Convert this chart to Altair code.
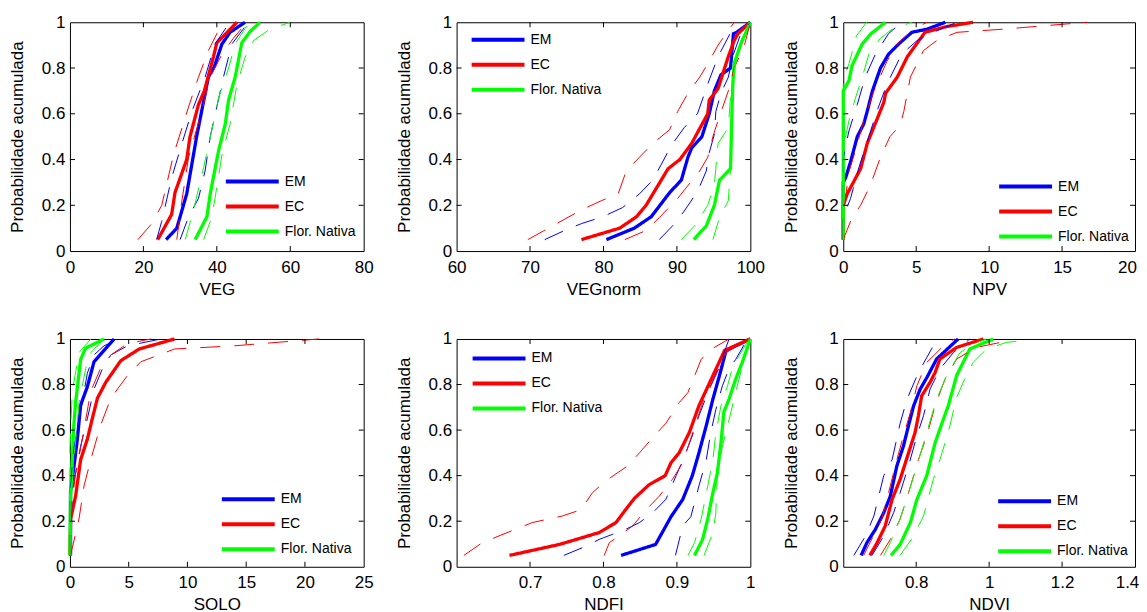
import altair as alt
import pandas as pd

FONT = "Liberation Sans"
GROUPS = ["EM", "EC", "Flor. Nativa"]
COLORS = ["#0000FF", "#FF0000", "#00FF00"]
Y_TICKS = [0, 0.2, 0.4, 0.6, 0.8, 1]
Y_TITLE = "Probabilidade acumulada"

# ---------------- VEG ----------------
VEG_TICKS = [0, 20, 40, 60, 80]
VEG_EM = [(26.2, 0.05), (29.1, 0.1), (31.8, 0.25), (34.5, 0.5), (37.7, 0.76), (39.4, 0.81), (41.4, 0.905), (43.6, 0.956), (47.7, 1.0)]
VEG_EC = [(23.9, 0.05), (27.7, 0.16), (28.6, 0.255), (31.8, 0.4), (32.7, 0.5), (35, 0.64), (36.6, 0.7), (39.1, 0.85), (40, 0.91), (45.5, 1.0)]
VEG_FN = [(34.1, 0.05), (37.3, 0.15), (38.2, 0.25), (40.5, 0.44), (42.3, 0.555), (43.2, 0.66), (45, 0.76), (46.8, 0.91), (49.1, 0.96), (51.8, 1.0)]
VEG_EM_LO = [(23.6, 0.05), (25, 0.13), (27.7, 0.32), (30.5, 0.47), (33.2, 0.61), (36.8, 0.76), (39.5, 0.905), (42.7, 0.98), (43.6, 1.0)]
VEG_EM_HI = [(30, 0.05), (32.3, 0.15), (35, 0.23), (36.8, 0.35), (38.2, 0.5), (40, 0.63), (41.8, 0.76), (44.1, 0.905), (48.6, 1.0)]
VEG_EC_LO = [(18.5, 0.05), (22.3, 0.12), (25, 0.2), (28.2, 0.42), (32.3, 0.63), (35, 0.76), (37.7, 0.876), (40, 0.95), (42.3, 1.0)]
VEG_EC_HI = [(29.1, 0.05), (30.5, 0.22), (32.3, 0.41), (35.9, 0.61), (38.2, 0.76), (41.4, 0.86), (44.5, 0.93), (48.2, 1.0)]
VEG_FN_LO = [(31.4, 0.05), (33.6, 0.175), (36.4, 0.365), (38.6, 0.525), (40.5, 0.67), (43.2, 0.8), (45, 0.905), (48.2, 0.985), (49, 1.0)]
VEG_FN_HI = [(36.4, 0.05), (38.6, 0.146), (39.5, 0.23), (41.4, 0.42), (43.6, 0.555), (45.5, 0.73), (47.7, 0.847), (50, 0.92), (54.5, 0.97), (60, 1.0)]

# ---------------- VEGnorm ----------------
VEGN_TICKS = [60, 70, 80, 90, 100]
VEGN_EM = [(80.4, 0.05), (84.2, 0.1), (86.5, 0.15), (89, 0.255), (90.6, 0.31), (91.5, 0.41), (92, 0.45), (93.4, 0.5), (94.4, 0.6), (95.1, 0.7), (96, 0.77), (97.3, 0.8), (97.7, 0.95), (98.1, 0.955), (100, 1.0)]
VEGN_EC = [(77, 0.05), (82.2, 0.1), (84.5, 0.15), (85.8, 0.2), (88.8, 0.36), (90.4, 0.4), (92, 0.47), (94.2, 0.6), (94.4, 0.66), (95.6, 0.71), (96.5, 0.8), (97, 0.85), (97.8, 0.92), (98.3, 0.95), (100, 1.0)]
VEGN_FN = [(92.3, 0.05), (94, 0.11), (95.1, 0.2), (95.8, 0.31), (97.3, 0.36), (97.5, 0.61), (97.6, 0.72), (97.8, 0.82), (98.7, 0.905), (100, 1.0)]
VEGN_EM_LO = [(72, 0.05), (74.7, 0.09), (77, 0.12), (79.9, 0.15), (82.6, 0.19), (84.9, 0.25), (86.7, 0.31), (87.9, 0.38), (89.2, 0.46), (91, 0.54), (92.8, 0.6), (94.2, 0.73), (95.6, 0.85), (97.4, 0.96), (98.3, 1.0)]
VEGN_EM_HI = [(87.6, 0.05), (89.7, 0.12), (91, 0.175), (92.8, 0.26), (94, 0.35), (94.4, 0.43), (95.1, 0.51), (95.3, 0.61), (96, 0.69), (97, 0.76), (97.7, 0.86), (98.7, 0.95), (100, 1.0)]
VEGN_EC_LO = [(69.7, 0.05), (72.5, 0.1), (77, 0.18), (79.7, 0.22), (82, 0.25), (83.1, 0.35), (84.9, 0.41), (86.7, 0.47), (89, 0.53), (90.1, 0.61), (91.5, 0.69), (93.1, 0.76), (94.4, 0.83), (95.6, 0.9), (97.8, 1.0)]
VEGN_EC_HI = [(82.9, 0.05), (85.8, 0.09), (87.6, 0.146), (90.1, 0.23), (93.1, 0.35), (94.2, 0.41), (94.9, 0.5), (95.6, 0.57), (97, 0.7), (97.8, 0.8), (99.2, 0.9), (100, 1.0)]
VEGN_FN_LO = [(90.6, 0.05), (92.4, 0.11), (94.2, 0.2), (95.1, 0.29), (95.6, 0.47), (97, 0.54), (97.4, 0.72), (98.1, 0.83), (98.7, 0.92), (100, 1.0)]
VEGN_FN_HI = [(94.9, 0.05), (95.8, 0.146), (97, 0.22), (97.4, 0.41), (97.5, 0.61), (97.6, 0.76), (98.3, 0.86), (99, 0.93), (100, 1.0)]

# ---------------- NPV ----------------
NPV_TICKS = [0, 5, 10, 15, 20]
NPV_EM = [(0, 0.05), (0, 0.3), (0.16, 0.32), (0.5, 0.39), (0.96, 0.5), (1.4, 0.555), (1.64, 0.61), (2, 0.7), (2.55, 0.8), (3.1, 0.86), (3.8, 0.905), (4.7, 0.956), (5.75, 0.97), (7, 1.0)]
NPV_EC = [(0, 0.05), (0, 0.2), (0.27, 0.25), (1.19, 0.36), (1.64, 0.47), (2.78, 0.65), (2.9, 0.69), (3.7, 0.76), (4.4, 0.85), (5.6, 0.956), (7, 0.98), (8.9, 1.0)]
NPV_FN = [(0, 0.05), (0, 0.7), (0.39, 0.745), (0.6, 0.81), (1.3, 0.905), (1.9, 0.95), (2.9, 1.0)]
NPV_EM_LO = [(0, 0.05), (0, 0.41), (0.39, 0.525), (0.96, 0.64), (1.5, 0.76), (2.2, 0.86), (3.1, 0.95), (4, 1.0)]
NPV_EM_HI = [(0, 0.05), (0, 0.15), (0.5, 0.23), (1.07, 0.365), (1.75, 0.5), (2.3, 0.61), (3, 0.73), (4, 0.86), (5.06, 0.92), (6.66, 0.97), (7.8, 1.0)]
NPV_EC_LO = [(0, 0.05), (0, 0.16), (0.4, 0.35), (0.84, 0.44), (1.4, 0.57), (2.1, 0.7), (3, 0.83), (3.7, 0.905), (4.8, 0.97), (5.75, 1.0)]
NPV_EC_HI = [(0, 0.05), (0.6, 0.146), (1.19, 0.2), (1.87, 0.29), (2.55, 0.41), (3.2, 0.5), (3.9, 0.55), (4.15, 0.61), (4.6, 0.76), (5.5, 0.876), (6.4, 0.92), (7.8, 0.956), (11, 0.97), (16.7, 1.0)]
NPV_FN_LO = [(0, 0.05), (0, 0.75), (0.4, 0.82), (0.9, 0.94), (1.6, 1.0)]
NPV_FN_HI = [(0, 0.05), (0, 0.45), (0.39, 0.57), (0.84, 0.67), (1.3, 0.76), (1.75, 0.86), (2.55, 0.93), (3.35, 0.97), (4.7, 1.0)]

# ---------------- SOLO ----------------
SOLO_TICKS = [0, 5, 10, 15, 20, 25]
SOLO_EM = [(0.05, 0.05), (0.05, 0.33), (0.34, 0.44), (0.63, 0.56), (0.91, 0.71), (1.48, 0.79), (2.05, 0.9), (2.9, 0.95), (3.76, 1.0)]
SOLO_EC = [(0, 0.05), (0.06, 0.21), (0.48, 0.31), (0.91, 0.47), (1.48, 0.56), (1.9, 0.65), (2.34, 0.74), (3.05, 0.81), (4.33, 0.905), (5.9, 0.956), (8.9, 1.0)]
SOLO_FN = [(0, 0.05), (0.05, 0.3), (0.2, 0.47), (0.3, 0.6), (0.48, 0.72), (0.91, 0.91), (1.34, 0.96), (2.9, 1.0)]
SOLO_EM_LO = [(0, 0.05), (0, 0.33), (0.34, 0.52), (0.91, 0.68), (1.48, 0.85), (2.05, 0.93), (2.9, 0.97), (4.2, 1.0)]
SOLO_EM_HI = [(0, 0.05), (0.2, 0.33), (0.91, 0.53), (1.48, 0.65), (2.05, 0.78), (2.77, 0.87), (3.48, 0.93), (4.9, 0.97), (7.75, 1.0)]
SOLO_EC_LO = [(0, 0.05), (0, 0.21), (0.48, 0.41), (0.91, 0.52), (1.77, 0.77), (2.6, 0.87), (3.48, 0.93), (4.9, 0.98), (6.9, 1.0)]
SOLO_EC_HI = [(0.05, 0.05), (0.77, 0.21), (1.2, 0.355), (1.77, 0.47), (2.6, 0.62), (3.48, 0.74), (4.9, 0.84), (6.04, 0.9), (8.9, 0.956), (14, 0.97), (21.2, 1.0)]
SOLO_FN_LO = [(0, 0.05), (0, 0.52), (0.2, 0.77), (0.77, 0.94), (1.77, 1.0)]
SOLO_FN_HI = [(0, 0.05), (0.1, 0.3), (0.34, 0.47), (0.77, 0.72), (1.34, 0.87), (1.77, 0.94), (2.9, 1.0)]

# ---------------- NDFI ----------------
NDFI_TICKS = [0.7, 0.8, 0.9, 1]
NDFI_EM = [(0.824, 0.05), (0.871, 0.098), (0.892, 0.22), (0.908, 0.296), (0.921, 0.4), (0.93, 0.5), (0.94, 0.62), (0.949, 0.736), (0.958, 0.84), (0.967, 0.95), (1.0, 1.0)]
NDFI_EC = [(0.672, 0.05), (0.74, 0.098), (0.794, 0.15), (0.817, 0.194), (0.83, 0.25), (0.842, 0.3), (0.862, 0.36), (0.884, 0.4), (0.892, 0.457), (0.903, 0.5), (0.917, 0.59), (0.93, 0.707), (0.951, 0.853), (0.965, 0.95), (1.0, 1.0)]
NDFI_FN = [(0.924, 0.05), (0.935, 0.12), (0.942, 0.21), (0.949, 0.325), (0.955, 0.41), (0.96, 0.545), (0.964, 0.68), (0.971, 0.736), (0.98, 0.824), (0.989, 0.897), (1.0, 1.0)]
NDFI_EM_LO = [(0.746, 0.05), (0.776, 0.09), (0.794, 0.12), (0.812, 0.142), (0.83, 0.164), (0.849, 0.194), (0.867, 0.237), (0.885, 0.296), (0.899, 0.4), (0.912, 0.5), (0.921, 0.575), (0.93, 0.663), (0.944, 0.78), (0.958, 0.883), (0.971, 1.0)]
NDFI_EM_HI = [(0.898, 0.05), (0.908, 0.18), (0.919, 0.22), (0.93, 0.355), (0.94, 0.47), (0.946, 0.587), (0.953, 0.69), (0.962, 0.795), (0.971, 0.87), (0.98, 0.91), (0.996, 1.0)]
NDFI_EC_LO = [(0.61, 0.05), (0.635, 0.106), (0.703, 0.194), (0.744, 0.223), (0.769, 0.25), (0.785, 0.325), (0.803, 0.377), (0.833, 0.443), (0.849, 0.5), (0.867, 0.567), (0.885, 0.63), (0.903, 0.72), (0.915, 0.765), (0.933, 0.91), (0.944, 0.95), (0.971, 1.0)]
NDFI_EC_HI = [(0.801, 0.05), (0.808, 0.106), (0.821, 0.135), (0.84, 0.18), (0.858, 0.25), (0.876, 0.31), (0.894, 0.384), (0.908, 0.457), (0.917, 0.545), (0.926, 0.63), (0.935, 0.72), (0.953, 0.84), (0.967, 0.94), (0.998, 1.0)]
NDFI_FN_LO = [(0.915, 0.05), (0.924, 0.106), (0.933, 0.21), (0.942, 0.355), (0.949, 0.47), (0.953, 0.587), (0.96, 0.707), (0.969, 0.795), (0.976, 0.88), (0.985, 0.927), (0.998, 1.0)]
NDFI_FN_HI = [(0.937, 0.05), (0.949, 0.15), (0.953, 0.237), (0.955, 0.41), (0.962, 0.53), (0.971, 0.646), (0.98, 0.765), (0.989, 0.88), (1.0, 1.0)]

# ---------------- NDVI ----------------
NDVI_TICKS = [0.8, 1, 1.2, 1.4]
NDVI_EM = [(0.649, 0.05), (0.665, 0.106), (0.688, 0.164), (0.711, 0.237), (0.729, 0.31), (0.747, 0.443), (0.765, 0.53), (0.779, 0.62), (0.793, 0.707), (0.811, 0.78), (0.829, 0.83), (0.856, 0.912), (0.915, 1.0)]
NDVI_EC = [(0.673, 0.05), (0.693, 0.106), (0.715, 0.179), (0.734, 0.296), (0.756, 0.384), (0.779, 0.5), (0.797, 0.59), (0.806, 0.663), (0.815, 0.75), (0.838, 0.81), (0.852, 0.853), (0.865, 0.912), (0.911, 0.963), (0.984, 1.0)]
NDVI_FN = [(0.731, 0.05), (0.756, 0.098), (0.784, 0.194), (0.802, 0.296), (0.829, 0.4), (0.852, 0.545), (0.875, 0.65), (0.888, 0.707), (0.911, 0.84), (0.947, 0.956), (1.011, 1.0)]
NDVI_EM_LO = [(0.629, 0.05), (0.661, 0.135), (0.684, 0.223), (0.711, 0.4), (0.734, 0.47), (0.756, 0.63), (0.775, 0.736), (0.806, 0.853), (0.847, 0.97), (0.865, 1.0)]
NDVI_EM_HI = [(0.679, 0.05), (0.711, 0.135), (0.738, 0.237), (0.756, 0.325), (0.779, 0.443), (0.802, 0.575), (0.82, 0.663), (0.838, 0.78), (0.865, 0.868), (0.902, 0.94), (0.947, 1.0)]
NDVI_EC_LO = [(0.656, 0.05), (0.706, 0.21), (0.729, 0.355), (0.747, 0.47), (0.765, 0.575), (0.784, 0.677), (0.802, 0.795), (0.829, 0.897), (0.875, 0.97), (0.906, 1.0)]
NDVI_EC_HI = [(0.702, 0.05), (0.729, 0.12), (0.756, 0.21), (0.779, 0.325), (0.806, 0.47), (0.829, 0.575), (0.852, 0.707), (0.879, 0.824), (0.911, 0.912), (0.965, 0.963), (1.056, 0.993)]
NDVI_FN_LO = [(0.711, 0.05), (0.729, 0.106), (0.756, 0.21), (0.779, 0.325), (0.802, 0.443), (0.829, 0.59), (0.856, 0.736), (0.884, 0.84), (0.92, 0.94), (0.956, 0.978), (0.993, 1.0)]
NDVI_FN_HI = [(0.756, 0.05), (0.793, 0.135), (0.82, 0.223), (0.847, 0.384), (0.865, 0.47), (0.888, 0.59), (0.911, 0.743), (0.929, 0.81), (0.956, 0.897), (0.993, 0.956), (1.047, 0.985), (1.106, 0.995)]

PANELS = [
    dict(title="VEG", domain=[0, 80], ticks=VEG_TICKS, legend=(175, 152), edge_shift=0, width=294, height=229,
         solid=[VEG_EM, VEG_EC, VEG_FN],
         bounds=[VEG_EM_LO, VEG_EM_HI, VEG_EC_LO, VEG_EC_HI, VEG_FN_LO, VEG_FN_HI]),
    dict(title="VEGnorm", domain=[60, 100], ticks=VEGN_TICKS, legend=(34, 10), edge_shift=0, width=294, height=229,
         solid=[VEGN_EM, VEGN_EC, VEGN_FN],
         bounds=[VEGN_EM_LO, VEGN_EM_HI, VEGN_EC_LO, VEGN_EC_HI, VEGN_FN_LO, VEGN_FN_HI]),
    dict(title="NPV", domain=[0, 20], ticks=NPV_TICKS, legend=(175, 157), edge_shift=-8, width=292, height=229,
         solid=[NPV_EM, NPV_EC, NPV_FN],
         bounds=[NPV_EM_LO, NPV_EM_HI, NPV_EC_LO, NPV_EC_HI, NPV_FN_LO, NPV_FN_HI]),
    dict(title="SOLO", domain=[0, 25], ticks=SOLO_TICKS, legend=(171, 153), edge_shift=0, width=294, height=228,
         solid=[SOLO_EM, SOLO_EC, SOLO_FN],
         bounds=[SOLO_EM_LO, SOLO_EM_HI, SOLO_EC_LO, SOLO_EC_HI, SOLO_FN_LO, SOLO_FN_HI]),
    dict(title="NDFI", domain=[0.6, 1.0], ticks=NDFI_TICKS, legend=(35, 12), edge_shift=0, width=294, height=228,
         solid=[NDFI_EM, NDFI_EC, NDFI_FN],
         bounds=[NDFI_EM_LO, NDFI_EM_HI, NDFI_EC_LO, NDFI_EC_HI, NDFI_FN_LO, NDFI_FN_HI]),
    dict(title="NDVI", domain=[0.6, 1.4], ticks=NDVI_TICKS, legend=(174, 155), edge_shift=-8, width=292, height=228,
         solid=[NDVI_EM, NDVI_EC, NDVI_FN],
         bounds=[NDVI_EM_LO, NDVI_EM_HI, NDVI_EC_LO, NDVI_EC_HI, NDVI_FN_LO, NDVI_FN_HI]),
]

TICK_LEN = 5


def frame(p):
    rows = []
    k = 0
    for pts, g in zip(p["solid"], GROUPS):
        for i, (x, y) in enumerate(pts):
            rows.append({"x": x, "y": y, "grupo": g, "kind": "cdf", "line": k, "i": i})
        k += 1
    for pts, g in zip(p["bounds"], [g for g in GROUPS for _ in (0, 1)]):
        for i, (x, y) in enumerate(pts):
            rows.append({"x": x, "y": y, "grupo": g, "kind": "bound", "line": k, "i": i})
        k += 1
    return pd.DataFrame(rows)


def make_panel(p):
    w, h = p["width"], p["height"]
    xs = alt.Scale(domain=p["domain"], nice=False, zero=False)
    ys = alt.Scale(domain=[0, 1], nice=False, zero=False)
    last = p["ticks"][-1]
    x_axis = alt.Axis(
        values=p["ticks"], format=".2~f", title=p["title"],
        labelOffset={"condition": {"test": f"datum.value == {last}", "value": p["edge_shift"]}, "value": 0},
    )
    X = alt.X("x:Q", scale=xs, axis=x_axis)
    Y = alt.Y("y:Q", scale=ys, axis=alt.Axis(values=Y_TICKS, format=".2~f", title=Y_TITLE))

    legend = alt.Legend(
        title=None, orient="none", legendX=p["legend"][0], legendY=p["legend"][1],
        symbolType="M-5,0H5", symbolSize=112, symbolStrokeWidth=4,
        labelFont=FONT, labelFontSize=14, labelColor="black", labelOffset=25,
        rowPadding=8, padding=0, labelLimit=400,
    )

    lines = alt.Chart(frame(p)).mark_line().encode(
        x=X, y=Y,
        color=alt.Color("grupo:N", scale=alt.Scale(domain=GROUPS, range=COLORS), legend=legend),
        strokeDash=alt.StrokeDash("kind:N", scale=alt.Scale(domain=["cdf", "bound"], range=[[1, 0], [20, 14]]), legend=None),
        strokeWidth=alt.StrokeWidth("kind:N", scale=alt.Scale(domain=["cdf", "bound"], range=[3.3, 1]), legend=None),
        detail="line:N", order="i:Q")

    lo, hi = p["domain"]
    xt = pd.DataFrame({"x": [t for t in p["ticks"] if lo < t < hi]})
    yt = pd.DataFrame({"y": [t for t in Y_TICKS if 0 < t < 1]})
    tb = alt.Chart(xt).mark_rule(color="black", strokeWidth=1).encode(
        x=X, y=alt.value(h), y2=alt.value(h - TICK_LEN))
    tt = alt.Chart(xt).mark_rule(color="black", strokeWidth=1).encode(
        x=X, y=alt.value(0), y2=alt.value(TICK_LEN))
    tl = alt.Chart(yt).mark_rule(color="black", strokeWidth=1).encode(
        y=Y, x=alt.value(0), x2=alt.value(TICK_LEN))
    tr = alt.Chart(yt).mark_rule(color="black", strokeWidth=1).encode(
        y=Y, x=alt.value(w), x2=alt.value(w - TICK_LEN))

    return alt.layer(lines, tb, tt, tl, tr).properties(width=w, height=h)


chart = alt.concat(
    *[make_panel(p) for p in PANELS], columns=3,
    spacing={"row": 88, "column": 93}, bounds="flush",
).resolve_scale(
    x="independent", y="independent", color="independent"
).resolve_legend(color="independent").properties(
    padding={"left": 0, "top": 4, "right": -1, "bottom": 0}
).configure_view(
    stroke="black", strokeWidth=1
).configure_axis(
    domain=False, ticks=False, grid=False, labelFlush=False,
    labelFont=FONT, titleFont=FONT, labelFontSize=17, titleFontSize=17,
    titleFontWeight="normal", labelColor="black", titleColor="black",
).configure_axisX(
    labelPadding=8, titlePadding=5, minExtent=25, maxExtent=25
).configure_axisY(
    labelPadding=5, titlePadding=14, minExtent=29, maxExtent=29
)

chart.save("out.html", embed_options={"renderer": "svg", "actions": False})
